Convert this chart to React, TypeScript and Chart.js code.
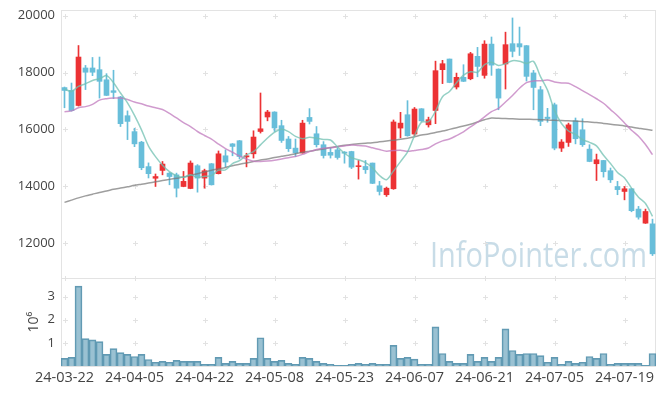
import { useEffect, useRef } from 'react';
import { Chart, registerables } from 'chart.js';

Chart.register(...registerables);

const dates = [
  '24-03-22','24-03-25','24-03-26','24-03-27','24-03-28','24-03-29','24-04-01','24-04-02','24-04-03','24-04-04',
  '24-04-05','24-04-08','24-04-09','24-04-11','24-04-12','24-04-15','24-04-16','24-04-17','24-04-18','24-04-19',
  '24-04-22','24-04-23','24-04-24','24-04-25','24-04-26','24-04-29','24-04-30','24-05-02','24-05-03','24-05-07',
  '24-05-08','24-05-09','24-05-10','24-05-13','24-05-14','24-05-16','24-05-17','24-05-20','24-05-21','24-05-22',
  '24-05-23','24-05-24','24-05-27','24-05-28','24-05-29','24-05-30','24-05-31','24-06-03','24-06-04','24-06-05',
  '24-06-07','24-06-10','24-06-11','24-06-12','24-06-13','24-06-14','24-06-17','24-06-18','24-06-19','24-06-20',
  '24-06-21','24-06-24','24-06-25','24-06-26','24-06-27','24-06-28','24-07-01','24-07-02','24-07-03','24-07-04',
  '24-07-05','24-07-08','24-07-09','24-07-10','24-07-11','24-07-12','24-07-15','24-07-16','24-07-17','24-07-18',
  '24-07-19','24-07-22','24-07-23','24-07-24','24-07-25',
];

const opens = [
  17470,17370,16840,18160,18160,18100,17745,17360,17140,16480,
  15920,15550,14690,14280,14555,14460,14400,13990,13920,14720,
  14285,14790,14440,15070,15490,15600,15030,15140,15925,16435,
  16610,16130,15660,15340,15170,16420,15845,15460,15190,15280,
  15200,15220,14690,14695,14815,14015,13700,13910,16045,16515,
  15835,16725,16160,16665,18100,18475,17490,17830,17780,18570,
  17900,19000,18120,18300,19015,19015,18945,17985,17395,16430,
  16865,15340,15540,16300,15985,15305,14790,14905,14545,13990,
  13815,13910,13195,12700,12675,
];
const highs = [
  17490,17630,18950,18250,18530,18545,17960,18080,17160,16650,
  16040,15580,14820,14430,14870,14480,14460,14520,14890,14760,
  14600,14800,15240,15280,15500,15610,15160,15950,17280,16670,
  16620,16320,15750,15660,16320,16730,16100,15570,15340,15340,
  15220,15230,14905,14905,14815,14170,13970,16330,16600,17010,
  16770,16730,16430,18400,18430,18475,17980,18275,18710,18885,
  19120,19250,18130,19420,19920,19600,18950,18075,17510,16740,
  16925,15640,16220,16400,16375,15460,15130,14910,14640,14170,
  13990,13920,13290,13195,12840,
];
const lows = [
  16760,16640,16820,17400,17890,17100,17190,17080,16100,15640,
  15390,14580,14290,13990,14400,14050,13620,13980,13910,13790,
  13930,14040,14430,14680,15070,14960,14680,14990,15870,16300,
  15925,15540,15220,15045,15160,16190,15380,14990,14990,14950,
  14810,14620,14250,14450,14090,13690,13640,13890,15700,15760,
  15775,16280,16080,16200,17610,17640,17420,17680,17745,17850,
  17800,17900,16690,17420,18550,18600,17700,16690,16130,16250,
  15280,15220,15400,15490,15400,14860,14200,14320,14130,13700,
  13520,13100,12840,12690,11560,
];
const closes = [
  17370,16660,18545,18010,18010,17690,17195,17300,16200,16280,
  15490,14650,14440,14340,14780,14340,13930,14170,14815,14285,
  14545,14050,15140,14850,15400,15045,15070,15730,16020,16610,
  16050,15610,15320,15170,16220,16280,15460,15080,15090,15010,
  15160,14670,14720,14580,14100,13815,13930,16260,16220,15775,
  16715,16300,16340,18065,18310,17650,17830,17690,18660,18215,
  19000,18260,17100,18980,18745,18900,17865,17475,16280,16380,
  15340,15555,16160,15670,15460,14870,14930,14510,14225,13880,
  13910,13140,12910,13110,11620,
];

const ma5 = [
  17420,17335,17510,17605,17719,17783,17890,17641,17279,16933,
  16493,15984,15412,15040,14740,14510,14366,14312,14407,14308,
  14349,14373,14567,14574,14797,14897,15101,15219,15453,15695,
  15896,16004,15922,15752,15674,15720,15690,15642,15626,15384,
  15160,15002,14930,14828,14646,14377,14229,14537,14865,15200,
  15780,16254,16270,16639,17146,17333,17639,17909,18028,18009,
  18279,18365,18247,18311,18417,18397,18318,18393,17853,17380,
  16668,16206,15943,15821,15637,15543,15418,15088,14799,14483,
  14291,13933,13613,13390,12938,
];
const ma20 = [
  16620,16650,16760,16800,16880,17030,17080,17100,17100,17050,
  16960,16900,16820,16760,16700,16560,16400,16240,16100,15925,
  15784,15653,15483,15325,15195,15062,14956,14878,14869,14885,
  14913,14961,15005,15047,15119,15216,15292,15338,15351,15388,
  15418,15449,15428,15415,15350,15288,15231,15258,15268,15226,
  15259,15294,15345,15490,15594,15663,15781,15912,16090,16250,
  16442,16622,16741,16961,17193,17447,17644,17705,17708,17738,
  17669,17632,17623,17503,17361,17222,17077,16918,16696,16479,
  16225,15969,15759,15466,15110,
];
const ma60 = [
  13430,13510,13590,13660,13720,13780,13830,13890,13935,13980,
  14030,14070,14110,14155,14200,14240,14280,14320,14380,14440,
  14500,14560,14610,14660,14720,14770,14820,14870,14920,14960,
  15010,15050,15090,15140,15190,15230,15270,15310,15360,15400,
  15440,15470,15490,15510,15530,15560,15590,15620,15650,15690,
  15740,15800,15840,15890,15940,16000,16060,16120,16180,16260,
  16340,16400,16390,16380,16370,16360,16355,16350,16340,16330,
  16320,16310,16300,16290,16280,16260,16240,16210,16180,16150,
  16120,16080,16040,16000,15970,
];

const volumes = [
  330000,370000,3450000,1180000,1130000,1050000,500000,750000,580000,500000,
  410000,500000,280000,160000,200000,160000,240000,200000,200000,200000,
  70000,70000,370000,110000,200000,110000,110000,330000,1220000,330000,
  200000,240000,110000,70000,370000,330000,200000,110000,70000,30000,
  30000,70000,110000,70000,110000,70000,70000,890000,330000,370000,
  300000,70000,70000,1690000,540000,200000,110000,110000,500000,200000,
  370000,200000,370000,1600000,670000,500000,540000,540000,450000,160000,
  370000,70000,200000,110000,160000,410000,330000,540000,70000,110000,
  110000,110000,110000,30000,540000,
];

const priceTicks = [12000, 14000, 16000, 18000, 20000];
const volumeTicks = [1000000, 2000000, 3000000];
const dateTickStep = 10;

const UP = 'rgb(236,50,52)';
const DOWN = 'rgb(104,190,218)';
const FONT = 'Open Sans';

const decorPlugin = {
  id: 'decor',
  beforeDatasetsDraw(chart: any) {
    const { ctx, chartArea } = chart;
    const xs = chart.scales.x;
    const ys = chart.scales.y;
    const yv = chart.scales.yv;
    ctx.save();
    // watermark
    ctx.font = `35px "${FONT}"`;
    ctx.fillStyle = 'rgba(170,202,218,0.65)';
    ctx.textAlign = 'right';
    ctx.textBaseline = 'alphabetic';
    ctx.fillText('InfoPointer.com', chartArea.right - 9, ys.bottom - 11, 217);
    // panel borders
    ctx.strokeStyle = '#e3e3e3';
    ctx.lineWidth = 1;
    const l = Math.round(chartArea.left) + 0.5;
    const r = Math.round(chartArea.right) - 0.5;
    const t = Math.round(ys.top) + 0.5;
    const m = Math.round(ys.bottom) + 0.5;
    const b = Math.round(yv.bottom) + 0.5;
    ctx.strokeRect(l, t, r - l, m - t);
    ctx.strokeRect(l, m, r - l, b - m);
    // crosses
    ctx.strokeStyle = '#e2e2e2';
    const cross = (px: number, py: number) => {
      const cx = Math.round(px) + 0.5;
      const cy = Math.round(py) + 0.5;
      ctx.beginPath();
      ctx.moveTo(cx - 2.5, cy);
      ctx.lineTo(cx + 2.5, cy);
      ctx.moveTo(cx, cy - 2.5);
      ctx.lineTo(cx, cy + 2.5);
      ctx.stroke();
    };
    for (let i = 0; i < dates.length; i += dateTickStep) {
      const px = xs.getPixelForValue(i);
      priceTicks.forEach((v) => cross(px, ys.getPixelForValue(v)));
      volumeTicks.forEach((v) => cross(px, yv.getPixelForValue(v)));
      cross(px, ys.bottom);
    }
    ctx.restore();
  },
};

const fixYAxis = (s: any) => {
  s.width = 61;
  s.paddingTop = 0;
  s.paddingBottom = 0;
};

export default function App() {
  const ref = useRef<HTMLCanvasElement | null>(null);
  useEffect(() => {
    if (!ref.current) return;
    const colors = closes.map((c, i) => (c >= opens[i] ? UP : DOWN));
    const chart = new Chart(ref.current, {
      type: 'bar',
      data: {
        labels: dates,
        datasets: [
          {
            type: 'line', label: 'MA5', data: ma5, yAxisID: 'y',
            borderColor: 'rgba(112,192,178,0.75)', borderWidth: 1.5, pointRadius: 0, tension: 0.3, order: 0,
          } as any,
          {
            type: 'line', label: 'MA20', data: ma20, yAxisID: 'y',
            borderColor: 'rgba(192,122,190,0.75)', borderWidth: 1.5, pointRadius: 0, tension: 0.3, order: 0,
          } as any,
          {
            type: 'line', label: 'MA60', data: ma60, yAxisID: 'y',
            borderColor: 'rgba(120,120,120,0.72)', borderWidth: 1.5, pointRadius: 0, tension: 0.3, order: 0,
          } as any,
          {
            type: 'bar', label: 'body', data: opens.map((o, i) => [o, closes[i]]), yAxisID: 'y',
            backgroundColor: colors, barThickness: 5, grouped: false, order: 1,
          } as any,
          {
            type: 'bar', label: 'wick', data: lows.map((lo, i) => [lo, highs[i]]), yAxisID: 'y',
            backgroundColor: colors, barThickness: 1, grouped: false, order: 2,
          } as any,
          {
            type: 'bar', label: 'volume', data: volumes, yAxisID: 'yv',
            backgroundColor: 'rgba(100,160,186,0.65)', borderColor: 'rgba(70,135,165,0.85)', borderWidth: 1,
            barPercentage: 1, categoryPercentage: 1, grouped: false, order: 3,
          } as any,
        ],
      },
      options: {
        animation: false,
        responsive: false,
        devicePixelRatio: 1,
        layout: { padding: { top: 10, right: 9, left: 0, bottom: 0 } },
        plugins: { legend: { display: false }, tooltip: { enabled: false } },
        scales: {
          x: {
            type: 'category',
            offset: true,
            grid: { display: false, drawTicks: false },
            border: { display: false },
            ticks: {
              autoSkip: false, maxRotation: 0, minRotation: 0, padding: 3, color: '#444',
              font: { family: FONT, size: 14.5 },
              callback: (_v: any, i: number) => (i % dateTickStep === 0 ? dates[i] : ''),
            },
            afterFit: (s: any) => { s.height = 30; },
          },
          yv: {
            type: 'linear', position: 'left', stack: 'panels', stackWeight: 88,
            min: 0, max: 3800000,
            grid: { display: false, drawTicks: false },
            border: { display: false },
            afterBuildTicks: (s: any) => { s.ticks = volumeTicks.map((v) => ({ value: v })); },
            ticks: {
              padding: 6, color: '#444', font: { family: FONT, size: 13 },
              callback: (v: any) => String(Number(v) / 1000000),
            },
            title: {
              display: true, text: '10⁶', color: '#444', font: { family: FONT, size: 14 },
              padding: { top: 26, bottom: 0 },
            },
            afterFit: fixYAxis,
          },
          y: {
            type: 'linear', position: 'left', stack: 'panels', stackWeight: 268,
            min: 10770, max: 20200,
            grid: { display: false, drawTicks: false },
            border: { display: false },
            afterBuildTicks: (s: any) => { s.ticks = priceTicks.map((v) => ({ value: v })); },
            ticks: {
              padding: 6, color: '#444', font: { family: FONT, size: 13 },
              callback: (v: any) => String(v),
            },
            afterFit: fixYAxis,
          },
        },
      } as any,
      plugins: [decorPlugin],
    });
    return () => chart.destroy();
  }, []);
  return (
    <div style={{ position: 'absolute', left: 0, top: 0, width: 665, height: 396, background: '#fff' }}>
      <canvas ref={ref} width={665} height={396} style={{ display: 'block' }} />
    </div>
  );
}
